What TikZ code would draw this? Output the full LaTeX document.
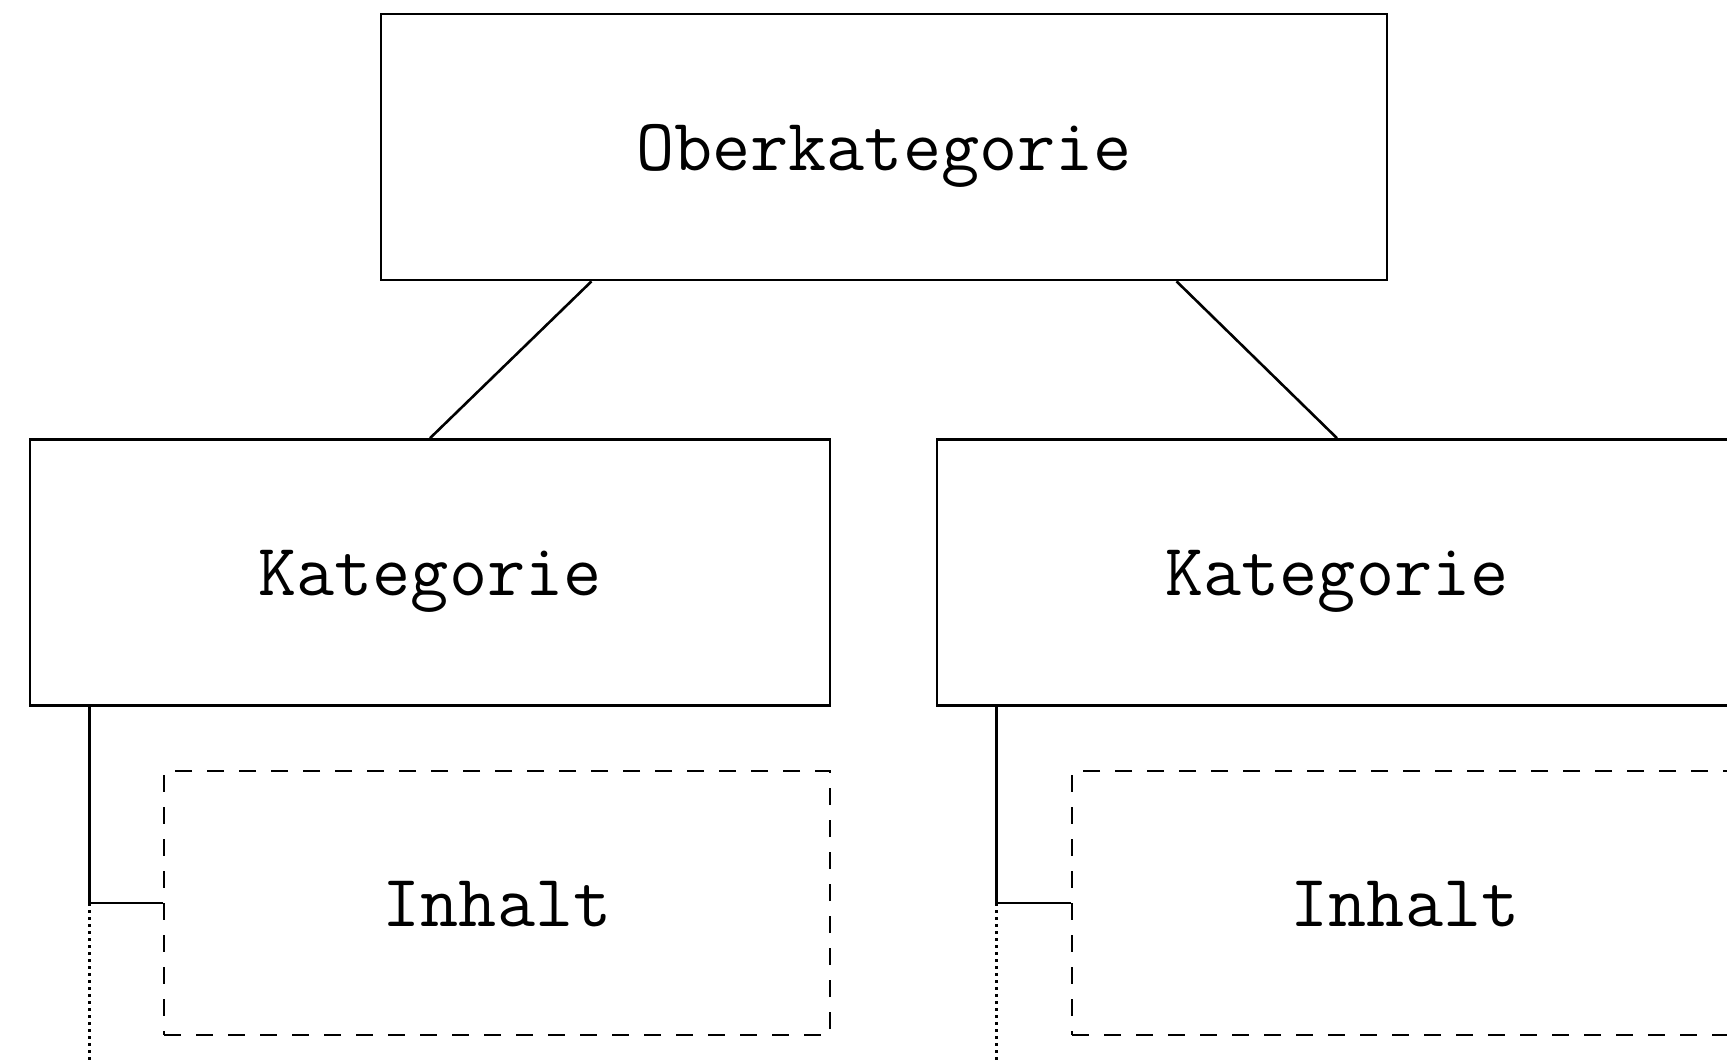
\documentclass[tikz,border=0pt]{standalone}
\usetikzlibrary{calc}
\usetikzlibrary{positioning}
\tikzset{
  box/.style={draw, line width=1.3pt, inner sep=0pt,
    minimum width=400pt, minimum height=133pt,
    text height=23pt, text depth=-3pt,
    font=\fontsize{37}{40}\selectfont\ttfamily},
  inhaltbox/.style={box, dash pattern=on 8.5pt off 7.5pt,
    minimum width=333pt, minimum height=132pt},
  verbinder/.style={line width=1.3pt},
  punktlinie/.style={line width=1.3pt, dash pattern=on 1.5pt off 2pt},
}

\begin{document}
\begin{tikzpicture}[x=0.5pt,y=-0.5pt]
  \useasboundingbox (0,0) rectangle (1727,1060);

  % 节点
  \node[box, minimum width=503pt] (ober) at (884,147) {Oberkategorie};
  \node[box] (kat1) at (430,572.5) {Kategorie};
  \node[box] (kat2) at (1337,572.5) {Kategorie};
  \node[inhaltbox] (inh1) at (497,903) {Inhalt};
  \node[inhaltbox] (inh2) at (1405,903) {Inhalt};

  % 辅助点
  \coordinate (unten) at (0,1060);
  \coordinate (ast1) at ([xshift=30.5pt]kat1.south west);
  \coordinate (ast2) at ([xshift=30.5pt]kat2.south west);

  % 连线
  \draw[verbinder] ($(ober.south west)!0.21!(ober.south east)$) -- (kat1.north);
  \draw[verbinder] ($(ober.south east)!0.21!(ober.south west)$) -- (kat2.north);
  \draw[verbinder] (ast1) |- (inh1.west);
  \draw[verbinder] (ast2) |- (inh2.west);
  \draw[punktlinie] (ast1 |- inh1.west) -- (ast1 |- unten);
  \draw[punktlinie] (ast2 |- inh2.west) -- (ast2 |- unten);
\end{tikzpicture}
\end{document}
